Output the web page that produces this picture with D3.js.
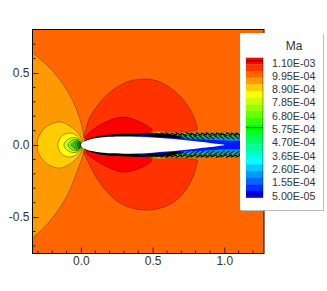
<!DOCTYPE html>
<html>
<head>
<meta charset="utf-8">
<style>
  body { margin: 0; background: #fff; }
  text { font-family: "Liberation Sans", Arial, sans-serif; fill: #333; }
</style>
<script src="https://cdn.jsdelivr.net/npm/d3@7"></script>
</head>
<body>
<div id="chart"></div>
<script>
// legend levels, top of the bar first
var levels = [1.1e-3, 1.0475e-3, 9.95e-4, 9.425e-4, 8.9e-4, 8.375e-4, 7.85e-4, 7.325e-4, 6.8e-4, 6.275e-4, 5.75e-4,
  5.225e-4, 4.7e-4, 4.175e-4, 3.65e-4, 3.125e-4, 2.6e-4, 2.075e-4, 1.55e-4, 1.025e-4, 5e-5];
var levelColors = ["#ff0000", "#ff3300", "#ff6600", "#ff9900", "#ffcc00", "#ffff00", "#ccff00", "#99ff00", "#66ff00", "#33ff00", "#00ff00",
  "#00ff33", "#00ff66", "#00ff99", "#00ffcc", "#00ffff", "#00ccff", "#0099ff", "#0066ff", "#0033ff", "#0000ff"];
var legendLabels = ["1.10E-03", "9.95E-04", "8.90E-04", "7.85E-04", "6.80E-04", "5.75E-04", "4.70E-04", "3.65E-04", "2.60E-04", "1.55E-04", "5.00E-05"];
var legendLabelLevels = [1.1e-3, 9.95e-4, 8.9e-4, 7.85e-4, 6.8e-4, 5.75e-4, 4.7e-4, 3.65e-4, 2.6e-4, 1.55e-4, 5e-5];
var legendLines = [1.1e-3, 5.75e-4, 5e-5];

var xTicks = [0, 0.5, 1];
var yTicks = [-0.5, 0, 0.5];
var xMinor = [-0.3, -0.2, -0.1, 0.1, 0.2, 0.3, 0.4, 0.6, 0.7, 0.8, 0.9, 1.1, 1.2];
var yMinor = [-0.7, -0.6, -0.4, -0.3, -0.2, -0.1, 0.1, 0.2, 0.3, 0.4, 0.6, 0.7];

// contour regions in x/c, y/c
var leftOrange = [[-0.5, 0.8], [-0.342, 0.646], [-0.216, 0.535], [-0.098, 0.382], [-0.021, 0.222], [0.021, 0.056], [0.021, -0.042],
  [-0.021, -0.167], [-0.098, -0.354], [-0.216, -0.528], [-0.342, -0.653], [-0.5, -0.8]];
var amberDrop = [[0.012, 0.028], [-0.049, 0.111], [-0.147, 0.160], [-0.244, 0.125], [-0.300, 0.042], [-0.300, -0.042], [-0.244, -0.125],
  [-0.147, -0.160], [-0.049, -0.111], [0.012, -0.028]];
var yellowDrop = [[0.007, 0.021], [-0.035, 0.069], [-0.084, 0.083], [-0.133, 0.063], [-0.161, 0], [-0.133, -0.063], [-0.084, -0.083],
  [-0.035, -0.069], [0.007, -0.021]];
var limeRing = [[0.007, 0.014], [-0.028, 0.049], [-0.070, 0.049], [-0.105, 0.028], [-0.119, 0], [-0.105, -0.028], [-0.070, -0.049],
  [-0.028, -0.049], [0.007, -0.014]];
var greenRing1 = [[0.003, 0.012], [-0.025, 0.038], [-0.056, 0.035], [-0.08, 0.018], [-0.09, 0], [-0.08, -0.018], [-0.056, -0.035],
  [-0.025, -0.038], [0.003, -0.012]];
var greenRing2 = [[0, 0.012], [-0.02, 0.03], [-0.04, 0.027], [-0.06, 0.014], [-0.07, 0], [-0.06, -0.014], [-0.04, -0.027],
  [-0.02, -0.03], [0, -0.012]];
var greenRing3 = [[0, 0.01], [-0.016, 0.022], [-0.032, 0.02], [-0.05, 0.01], [-0.057, 0], [-0.05, -0.01], [-0.032, -0.02],
  [-0.016, -0.022], [0, -0.01]];
var greenRing4 = [[0, 0.008], [-0.012, 0.015], [-0.024, 0.014], [-0.036, 0.007], [-0.042, 0], [-0.036, -0.007], [-0.024, -0.014],
  [-0.012, -0.015], [0, -0.008]];
var greenCore = [[0, 0.005], [-0.01, 0.01], [-0.02, 0.006], [-0.026, 0], [-0.02, -0.006], [-0.01, -0.01], [0, -0.005]];

var upperLobe = [[0.021, 0.052], [0.036, 0.110], [0.063, 0.194], [0.181, 0.347], [0.321, 0.438], [0.468, 0.458], [0.579, 0.424], [0.698, 0.333],
  [0.775, 0.222], [0.806, 0.140], [0.812, 0.108], [0.768, 0.097], [0.482, 0.083], [0.133, 0.062], [0.05, 0.04]];
var lowerLobe = [[0.021, -0.042], [0.042, -0.100], [0.133, -0.264], [0.272, -0.403], [0.433, -0.451], [0.579, -0.431], [0.698, -0.354], [0.775, -0.236],
  [0.806, -0.140], [0.812, -0.108], [0.768, -0.097], [0.482, -0.083], [0.133, -0.062], [0.05, -0.04]];
var upperRed = [[0.028, 0.049], [0.133, 0.139], [0.293, 0.194], [0.412, 0.160], [0.495, 0.105], [0.447, 0.083], [0.133, 0.062], [0.05, 0.04]];
var lowerRed = [[0.035, -0.05], [0.133, -0.125], [0.293, -0.188], [0.412, -0.160], [0.495, -0.105], [0.447, -0.083], [0.133, -0.062], [0.05, -0.04]];

var regions = [
  { pts: leftOrange, color: "#ff9900", line: 0.5 }, { pts: amberDrop, color: "#ffcc00", line: 0.5 }, { pts: yellowDrop, color: "#ffff00", line: 0.6 },
  { pts: limeRing, color: "#ccff00", line: 0.7 }, { pts: greenRing1, color: "#99ff00", line: 0.8 }, { pts: greenRing2, color: "#66ff00", line: 0.9 },
  { pts: greenRing3, color: "#33ff00", line: 0.9 }, { pts: greenRing4, color: "#00e000", line: 0.9 }, { pts: greenCore, color: "#008040", line: 0.9 },
  { pts: upperLobe, color: "#ff3300", line: 0.5 }, { pts: lowerLobe, color: "#ff3300", line: 0.5 },
  { pts: upperRed, color: "#ff0000", line: 0.5 }, { pts: lowerRed, color: "#ff0000", line: 0.5 }
];

// wake bands: half widths at each station
var wakeX = [0.50, 0.62, 0.76, 0.90, 1.04, 1.18, 1.30];
var wakeBrown = [0.086, 0.092, 0.092, 0.090, 0.090, 0.090, 0.090];
var wakeYellow = [0.076, 0.082, 0.082, 0.082, 0.082, 0.082, 0.082];
var wakeGreen = [0.066, 0.072, 0.074, 0.074, 0.074, 0.074, 0.074];
var wakeCyan = [0.056, 0.058, 0.056, 0.054, 0.054, 0.054, 0.054];
var wakeBlue = [0.050, 0.048, 0.044, 0.036, 0.030, 0.034, 0.038];

var blackX = [0.02, 0.05, 0.133, 0.342, 0.482, 0.60, 0.70];
var blackHalf = [0.024, 0.042, 0.065, 0.080, 0.082, 0.078, 0.056];

var airfoilX = [0, 0.0125, 0.025, 0.05, 0.075, 0.1, 0.15, 0.2, 0.3, 0.4, 0.5, 0.6, 0.7, 0.8, 0.9, 0.95, 1];
var airfoilHalf = [0, 0.0189, 0.0261, 0.0355, 0.042, 0.0468, 0.0534, 0.0574, 0.06, 0.058, 0.0529, 0.0456, 0.0366, 0.0262, 0.0145, 0.0081, 0.0013];

var rimX = [0.40, 0.5, 0.6, 0.7, 0.8, 0.9, 0.95, 1, 1.04];
var rimHalf = [0.061, 0.058, 0.052, 0.044, 0.036, 0.030, 0.028, 0.028, 0.028];

// dense contour lines in the wake, outer and inner rows
var hatchStart = [0.52, 0.555, 0.59, 0.625, 0.66, 0.695, 0.73, 0.765, 0.80, 0.835, 0.87, 0.905, 0.94, 0.975, 1.01, 1.045, 1.08, 1.115, 1.15, 1.185, 1.22, 1.255];
var hatchOuter = [0.082, 0.084, 0.086, 0.082, 0.086, 0.083, 0.086, 0.082, 0.085, 0.083, 0.086, 0.082, 0.085, 0.083, 0.086, 0.082, 0.085, 0.083, 0.086, 0.082, 0.085, 0.083];
var hatchMiddle = [0.066, 0.068, 0.066, 0.07, 0.068, 0.066, 0.07, 0.066, 0.068, 0.07, 0.066, 0.068, 0.07, 0.066, 0.068, 0.07, 0.066, 0.068, 0.07, 0.066, 0.068, 0.07];
var hatchInner = [0.058, 0.056, 0.052, 0.05, 0.046, 0.044, 0.042, 0.04, 0.038, 0.042, 0.04, 0.044, 0.04, 0.042, 0.04, 0.042, 0.04, 0.044, 0.04, 0.042, 0.044, 0.042];

var width = 327, height = 291;
var svg = d3.select("#chart").append("svg").attr("width", width).attr("height", height).style("display", "block");

var x = d3.scaleLinear().domain([-0.338, 1.277]).range([32.5, 264]);
var y = d3.scaleLinear().domain([0.802, -0.753]).range([29.5, 253.5]);

svg.append("clipPath").attr("id", "plot-clip").append("rect")
  .attr("x", x.range()[0]).attr("y", y.range()[0])
  .attr("width", x.range()[1] - x.range()[0]).attr("height", y.range()[1] - y.range()[0]);

var plot = svg.append("g").attr("clip-path", "url(#plot-clip)");
plot.append("rect")
  .attr("x", x.range()[0]).attr("y", y.range()[0])
  .attr("width", x.range()[1] - x.range()[0]).attr("height", y.range()[1] - y.range()[0])
  .attr("fill", "#ff6600");

var closedLine = d3.line().x(function (d) { return x(d[0]); }).y(function (d) { return y(d[1]); }).curve(d3.curveCatmullRomClosed.alpha(0.5));

plot.selectAll(".region").data(regions).enter().append("path")
  .attr("class", "region")
  .attr("d", function (d) { return closedLine(d.pts); })
  .attr("fill", function (d) { return d.color; })
  .attr("stroke", "#000")
  .attr("stroke-opacity", function (d) { return d.line; })
  .attr("stroke-width", 0.6);

// outline of a symmetric shape, upper side back to front then lower side
var loop = function (xs, half) {
  var upper = xs.map(function (v, i) { return [v, half[i]]; });
  var lower = xs.map(function (v, i) { return [v, -half[i]]; });
  return d3.line().x(function (d) { return x(d[0]); }).y(function (d) { return y(d[1]); })
    .curve(d3.curveCatmullRom.alpha(0.5))(upper.reverse().concat(lower.slice(half[0] === 0 ? 1 : 0)));
};

[[wakeBrown, "#c47a10"], [wakeYellow, "#e8e000"], [wakeGreen, "#20c040"], [wakeCyan, "#00a0d8"], [wakeBlue, "#0018ff"]].forEach(function (w) {
  plot.append("path").attr("d", loop(wakeX, w[0])).attr("fill", w[1]);
});

[1, -1].forEach(function (side) {
  plot.selectAll(".hatch-out" + side).data(hatchStart).enter().append("line")
    .attr("x1", function (d) { return x(d); })
    .attr("y1", function (d, i) { return y(side * hatchOuter[i]); })
    .attr("x2", function (d) { return x(d + 0.045); })
    .attr("y2", function (d, i) { return y(side * hatchMiddle[i]); })
    .attr("stroke", "#000").attr("stroke-width", 1.3);
  plot.selectAll(".hatch-in" + side).data(hatchStart).enter().append("line")
    .attr("x1", function (d) { return x(d + 0.02); })
    .attr("y1", function (d, i) { return y(side * hatchMiddle[i]); })
    .attr("x2", function (d) { return x(d + 0.06); })
    .attr("y2", function (d, i) { return y(side * hatchInner[i]); })
    .attr("stroke", "#001040").attr("stroke-width", 1.1);
});

// black mass of contour lines along the surface
plot.append("path").attr("d", loop(blackX, blackHalf)).attr("fill", "#000");
plot.append("path").attr("d", loop(rimX, rimHalf)).attr("fill", "#0018ff");
plot.append("path").attr("d", loop(airfoilX, airfoilHalf)).attr("fill", "#fff");

// frame and axes
var fmt = function (d) { return d3.format(".1f")(d).replace("\u2212", "-"); };

var xAxis = svg.append("g").attr("transform", "translate(0," + y.range()[1] + ")")
  .call(d3.axisBottom(x).tickValues(xTicks).tickFormat(fmt).tickSizeInner(-6).tickSizeOuter(0).tickPadding(3));
var yAxis = svg.append("g").attr("transform", "translate(" + x.range()[0] + ",0)")
  .call(d3.axisLeft(y).tickValues(yTicks).tickFormat(fmt).tickSizeInner(-6).tickSizeOuter(0).tickPadding(3));
[xAxis, yAxis].forEach(function (a) {
  a.select(".domain").remove();
  a.selectAll("text").attr("font-size", 12).style("font-family", '"Liberation Sans", Arial, sans-serif').attr("fill", "#333");
  a.selectAll("line").attr("stroke", "#222");
});

svg.selectAll(".x-minor").data(xMinor).enter().append("line").attr("class", "x-minor")
  .attr("x1", function (d) { return x(d); }).attr("x2", function (d) { return x(d); })
  .attr("y1", y.range()[1]).attr("y2", y.range()[1] - 3).attr("stroke", "#222");
svg.selectAll(".y-minor").data(yMinor).enter().append("line").attr("class", "y-minor")
  .attr("x1", x.range()[0]).attr("x2", x.range()[0] + 3)
  .attr("y1", function (d) { return y(d); }).attr("y2", function (d) { return y(d); }).attr("stroke", "#222");

svg.append("rect")
  .attr("x", x.range()[0]).attr("y", y.range()[0])
  .attr("width", x.range()[1] - x.range()[0]).attr("height", y.range()[1] - y.range()[0])
  .attr("fill", "none").attr("stroke", "#000").attr("stroke-width", 1);

// legend
var legend = svg.append("g");
legend.append("rect").attr("x", 241).attr("y", 34).attr("width", 83).attr("height", 177).attr("fill", "#bbb");
legend.append("rect").attr("x", 240).attr("y", 33).attr("width", 83).attr("height", 177).attr("fill", "#fff");
legend.append("text").attr("x", 294).attr("y", 50).attr("text-anchor", "middle").attr("font-size", 12).text("Ma");

var bar = d3.scaleLinear().domain([5e-5, 1.1e-3]).range([194.2, 61]);
var bandH = (bar(5e-5) - bar(1.1e-3)) / (levels.length - 1);

legend.selectAll(".swatch").data(levels).enter().append("rect")
  .attr("class", "swatch")
  .attr("x", 246).attr("width", 17)
  .attr("y", function (d) { return bar(d) - bandH / 2; })
  .attr("height", bandH + 0.3)
  .attr("fill", function (d, i) { return levelColors[i]; });
legend.append("line").attr("x1", 263).attr("x2", 263).attr("y1", bar(1.1e-3) - bandH / 2).attr("y2", bar(5e-5) + bandH / 2)
  .attr("stroke", "#000").attr("stroke-opacity", 0.7).attr("stroke-width", 0.6);
legend.selectAll(".level-line").data(legendLines).enter().append("line")
  .attr("class", "level-line")
  .attr("x1", 246).attr("x2", 263)
  .attr("y1", function (d) { return bar(d); }).attr("y2", function (d) { return bar(d); })
  .attr("stroke", "#000").attr("stroke-opacity", 0.7);
legend.selectAll(".level-label").data(legendLabels).enter().append("text")
  .attr("class", "level-label")
  .attr("x", 272)
  .attr("y", function (d, i) { return bar(legendLabelLevels[i]) + 5.5; })
  .attr("font-size", 10.7)
  .text(function (d) { return d; });
</script>
</body>
</html>
